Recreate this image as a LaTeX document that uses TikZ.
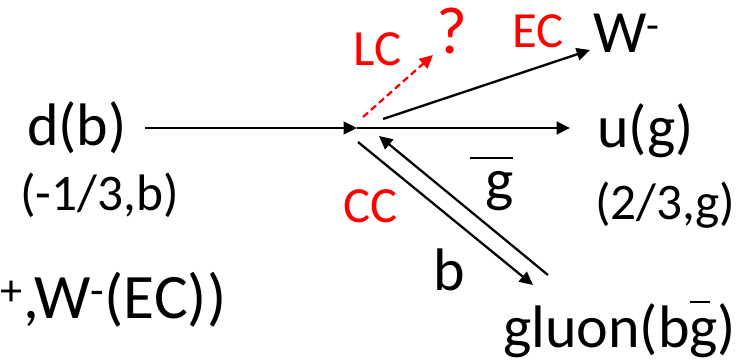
\documentclass[tikz,border=0pt]{standalone}
\usepackage{fontspec}
\setmainfont{Carlito}
\usetikzlibrary{arrows.meta}
\tikzset{
  big/.style={inner sep=0pt,anchor=base west,font=\fontsize{45}{50}\selectfont},
  small/.style={inner sep=0pt,anchor=base west,font=\fontsize{38.5}{44}\selectfont},
  tag/.style={inner sep=0pt,anchor=base west,text=red,font=\fontsize{38}{42}\selectfont},
  sip/.style={-{Triangle[length=10pt,width=9.5pt]},line width=1.7pt},
  sipLC/.style={sip,red,dash pattern=on 5pt off 3pt},
}
\begin{document}
\begin{tikzpicture}[x=0.75pt,y=-0.75pt]
  \useasboundingbox (0,0) rectangle (751,362);
  % particles
  \node[big] (db) at (27,145) {d(b)};
  \node[small] (dq) at (20,210) {(-1/3,b)};
  \node[big] (ug) at (597,147) {u(g)};
  \node[small] (uq) at (595,219) {(2/3,g)};
  \node[big] (w) at (593,52) {W\textsuperscript{-}};
  \node[big] (gl) at (503,347) {gluon(b\makebox[0pt][l]{\rule[33pt]{15pt}{1.5pt}}g)};
  \node[big] (lb) at (433,290) {b};
  \node[big] (lg) at (485,200) {\makebox[0pt][l]{\hspace{-11.25pt}\rule[31pt]{32pt}{1.5pt}}g};
  \node[big,font=\fontsize{47.5}{52}\selectfont] (ew) at (0,318) {\textsuperscript{+},W\textsuperscript{-}(EC))};
  % labels
  \node[tag] (lc) at (353,65) {LC};
  \node[tag] (ec) at (512,47) {EC};
  \node[tag] (cc) at (343,222) {CC};
  \node[tag,font=\fontsize{50}{54}\selectfont] (q) at (436,53) {?};
  % arrows
  \coordinate (v) at (357,128);
  \coordinate (din) at (145,128);
  \coordinate (uout) at (570,128);
  \coordinate (w0) at (383,119);  \coordinate (w1) at (590,50);
  \coordinate (l0) at (363,117);  \coordinate (l1) at (433,55);
  \coordinate (b0) at (358,142);  \coordinate (b1) at (533,285);
  \coordinate (g0) at (548,275);  \coordinate (g1) at (379,136);
  \draw[sip] (din) -- (v);
  \draw[sip] (v) -- (uout);
  \draw[sip] (w0) -- (w1);
  \draw[sipLC] (l0) -- (l1);
  \draw[sip] (b0) -- (b1);
  \draw[sip] (g0) -- (g1);
\end{tikzpicture}
\end{document}
